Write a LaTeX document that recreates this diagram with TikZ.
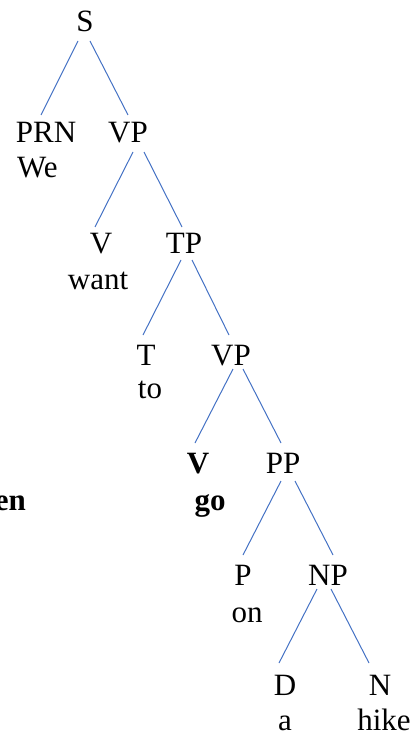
\documentclass[tikz,border=0pt]{standalone}
\usepackage{fontspec}
\setmainfont{Liberation Serif}
\usetikzlibrary{calc}
\definecolor{branch}{RGB}{68,114,196}
\begin{document}
\begin{tikzpicture}[x=1pt,y=-1pt,
  lbl/.style={inner sep=0pt,anchor=base,font=\fontsize{31}{37}\selectfont},
  blbl/.style={lbl,font=\fontsize{31}{37}\selectfont\bfseries},
  branchline/.style={draw=branch,line width=1pt}]
\useasboundingbox (0,0) rectangle (418,735);

% labels
\node[lbl] (S)    at (85,32)  {S};
\node[lbl] (PRN)  at (46,143) {PRN};
\node[lbl,anchor=base west] (we) at (17,178) {We};
\node[lbl] (VPa)  at (128,143) {VP};
\node[lbl] (Va)   at (101,253) {V};
\node[lbl] (want) at (98,289)  {want};
\node[lbl] (TP)   at (184,253) {TP};
\node[lbl] (T)    at (146,365) {T};
\node[lbl] (to)   at (150,398) {to};
\node[lbl] (VPb)  at (231,365) {VP};
\node[blbl] (Vb)  at (198,473) {V};
\node[blbl] (go)  at (210,510) {go};
\node[blbl,anchor=base east] (en) at (26,510) {en};
\node[lbl] (PP)   at (283,473) {PP};
\node[lbl] (P)    at (243,585) {P};
\node[lbl] (on)   at (247,622) {on};
\node[lbl] (NP)   at (328,585) {NP};
\node[lbl] (D)    at (285,695) {D};
\node[lbl] (a)    at (285,730) {a};
\node[lbl] (N)    at (380,695) {N};
\node[lbl] (hike) at (384,730) {hike};

% branches
\path[branchline] ($(S.base)+(-7,9)$)   -- ($(PRN.base)+(-5,-28)$);
\path[branchline] ($(S.base)+(5,9)$)    -- ($(VPa.base)+(0,-28)$);
\path[branchline] ($(VPa.base)+(5,9)$)  -- ($(Va.base)+(-6,-26)$);
\path[branchline] ($(VPa.base)+(16,9)$) -- ($(TP.base)+(-2,-26)$);
\path[branchline] ($(TP.base)+(-3,7)$)  -- ($(T.base)+(-3,-30)$);
\path[branchline] ($(TP.base)+(8,7)$)   -- ($(VPb.base)+(-2,-30)$);
\path[branchline] ($(VPb.base)+(2,4)$)  -- ($(Vb.base)+(-3,-30)$);
\path[branchline] ($(VPb.base)+(12,4)$) -- ($(PP.base)+(-2,-30)$);
\path[branchline] ($(PP.base)+(-2,8)$)  -- ($(P.base)+(0,-30)$);
\path[branchline] ($(PP.base)+(12,8)$)  -- ($(NP.base)+(5,-30)$);
\path[branchline] ($(NP.base)+(-11,4)$) -- ($(D.base)+(-6,-32)$);
\path[branchline] ($(NP.base)+(3,4)$)   -- ($(N.base)+(-11,-32)$);
\end{tikzpicture}
\end{document}
